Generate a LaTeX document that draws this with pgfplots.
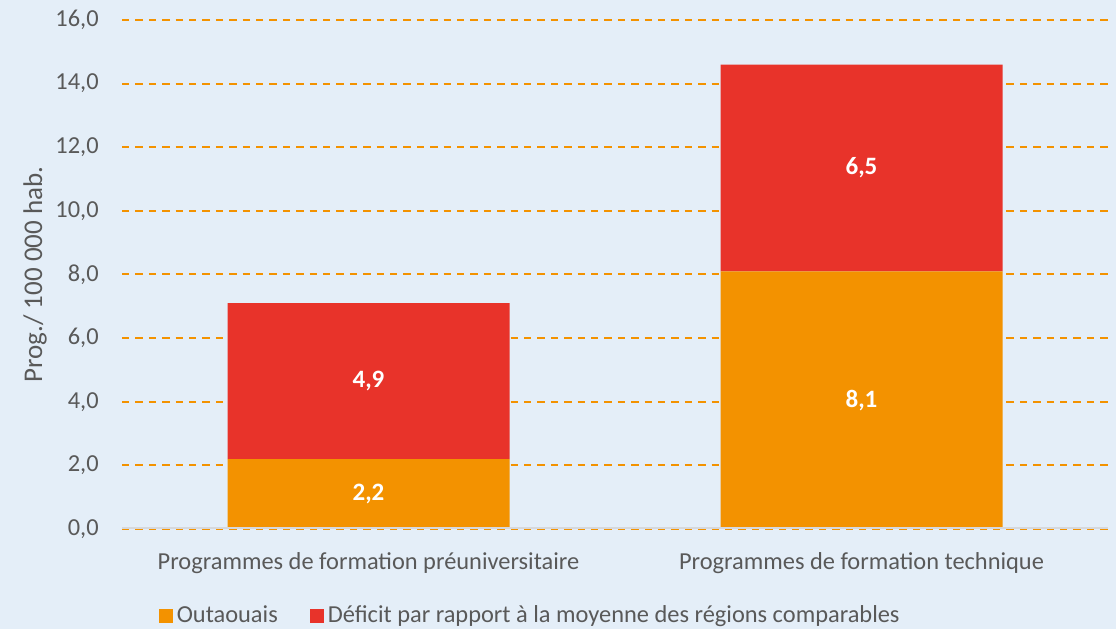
\documentclass[border=0pt]{standalone}
\usepackage{pgfplots}
\pgfplotsset{compat=1.18}
\usepackage{fontspec}
\setmainfont{Carlito}

\definecolor{bgblue}{HTML}{E4EEF8}
\definecolor{orangebar}{HTML}{F39200}
\definecolor{redbar}{HTML}{E8332A}
\definecolor{txtgray}{HTML}{595959}
\definecolor{axisgray}{HTML}{D6D8DC}

\begin{document}
\begin{tikzpicture}
\fill[bgblue] (0,0) rectangle (558bp,314.5bp);
\useasboundingbox (0,0) rectangle (558bp,314.5bp);

\begin{axis}[
    at={(61bp,50bp)}, anchor=south west,
    scale only axis,
    width=493bp, height=254.5bp,
    ybar stacked,
    bar width=0.572,
    xmin=-0.5, xmax=1.5,
    ymin=0, ymax=16,
    xtick={0,1},
    xticklabels={Programmes de formation préuniversitaire, Programmes de formation technique},
    ytick={0,2,...,16},
    major tick length=0pt,
    axis line style={draw=none},
    ymajorgrids,
    major grid style={orangebar, line width=1bp, dash pattern=on 3.7bp off 3bp},
    font=\fontsize{12.2bp}{14bp}\selectfont,
    tick label style={text=txtgray},
    /pgf/number format/assume math mode=true,
    yticklabel={\pgfmathprintnumber[fixed, fixed zerofill, precision=1, use comma]{\tick}},
    yticklabel style={anchor=east, inner sep=0pt, xshift=-11.5bp},
    xticklabel style={anchor=north, inner sep=0pt, yshift=-11.5bp},
    ylabel={Prog./ 100 000 hab.},
    every axis y label/.style={at={(rel axis cs:0,0.5)}, xshift=-43.5bp, rotate=90, anchor=center,
        text=txtgray, font=\fontsize{13.5bp}{15bp}\selectfont},
    legend columns=2,
    legend style={at={(rel axis cs:0.415,-0.17)}, anchor=center, draw=none, fill=none,
        font=\fontsize{12.2bp}{14bp}\selectfont, text=txtgray,
        /tikz/every even column/.append style={column sep=14bp}},
    legend image code/.code={\fill[#1] (0bp,-3.5bp) rectangle (7bp,3.5bp);},
]
\addplot[fill=orangebar, draw=none] coordinates {(0,2.2) (1,8.1)};
\addlegendentry{Outaouais}
\addplot[fill=redbar, draw=none] coordinates {(0,4.9) (1,6.5)};
\addlegendentry{Déficit par rapport à la moyenne des régions comparables}
\end{axis}

% overlay axis: baseline and value labels
\begin{axis}[
    at={(61bp,50bp)}, anchor=south west,
    scale only axis,
    width=493bp, height=254.5bp,
    xmin=-0.5, xmax=1.5,
    ymin=0, ymax=16,
    hide axis,
]
\draw[axisgray, line width=1.6bp] (rel axis cs:0,0) -- (rel axis cs:1,0);
\addplot[draw=none, mark=none, nodes near coords, point meta=explicit symbolic,
    nodes near coords style={anchor=center, text=white,
        font=\fontsize{12.5bp}{14bp}\selectfont\bfseries}]
    table[meta=label] {
x y label
0 1.1 {2,2}
0 4.65 {4,9}
1 4.05 {8,1}
1 11.35 {6,5}
};
\end{axis}
\end{tikzpicture}
\end{document}
